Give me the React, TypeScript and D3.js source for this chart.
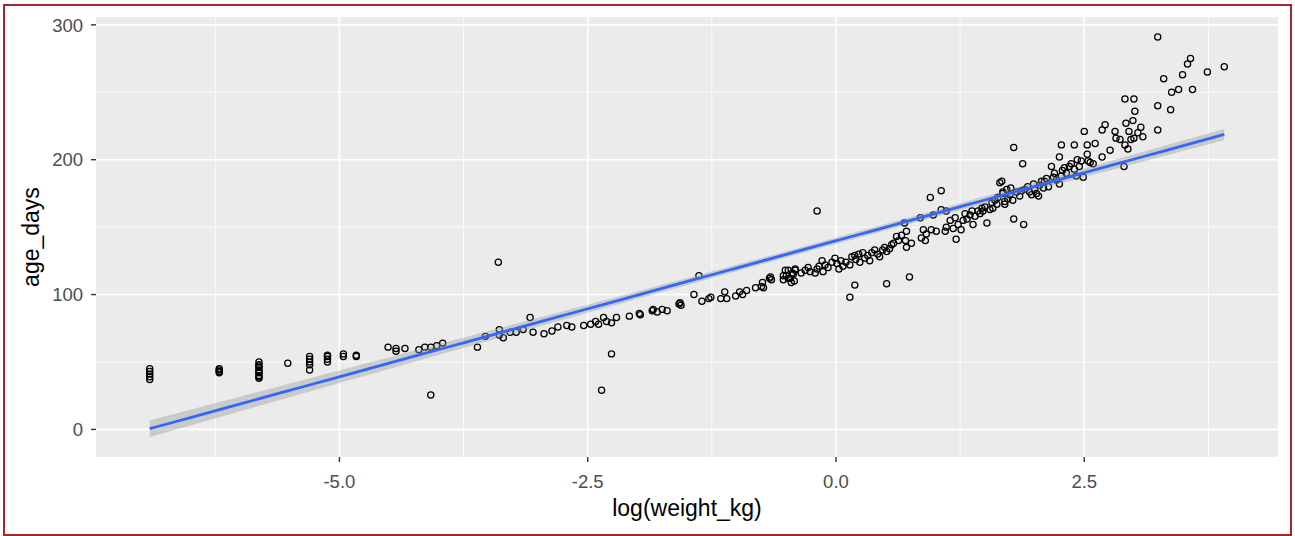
import React from 'react';
import * as d3 from 'd3';

// log(weight_kg) and age_days
const logWeight = [
  -6.91, -6.91, -6.91, -6.91, -6.91,
  -6.21, -6.21, -6.21, -6.21,
  -5.81, -5.81, -5.81, -5.81, -5.81, -5.81, -5.81, -5.81, -5.81, -5.81,
  -5.52, -5.30, -5.30, -5.30, -5.30, -5.30, -5.12, -5.12, -5.12, -5.12,
  -4.96, -4.96, -4.83, -4.83, -4.51, -4.43, -4.43, -4.34, -4.20, -4.14,
  -4.08, -4.08, -4.02, -3.96, -3.61, -3.53, -3.40, -3.39, -3.39, -3.35,
  -3.28, -3.22, -3.15, -3.08, -3.05, -2.94, -2.86, -2.80, -2.71, -2.66,
  -2.54, -2.47, -2.42, -2.39, -2.36, -2.34, -2.31, -2.26, -2.26, -2.21,
  -2.08, -1.98, -1.97, -1.85, -1.84, -1.80, -1.75, -1.70, -1.58, -1.57,
  -1.56, -1.43, -1.38, -1.35, -1.28, -1.26, -1.16, -1.12, -1.10, -1.01,
  -0.97, -0.94, -0.90, -0.81, -0.75, -0.74, -0.73, -0.67, -0.66, -0.65,
  -0.53, -0.53, -0.51, -0.50, -0.48, -0.48, -0.46, -0.45, -0.44, -0.43,
  -0.42, -0.41, -0.41, -0.35, -0.31, -0.28, -0.26, -0.21, -0.19, -0.19,
  -0.17, -0.14, -0.13, -0.11, -0.08, -0.04, -0.01, 0.01, 0.03, 0.05,
  0.07, 0.10, 0.14, 0.14, 0.16, 0.19, 0.19, 0.20, 0.23, 0.24,
  0.27, 0.29, 0.32, 0.34, 0.36, 0.39, 0.42, 0.44, 0.47, 0.49,
  0.51, 0.51, 0.54, 0.56, 0.58, 0.61, 0.63, 0.66, 0.69, 0.70,
  0.71, 0.71, 0.74, 0.76, 0.85, 0.86, 0.88, 0.90, 0.91, 0.95,
  0.96, 0.98, 1.01, 1.06, 1.06, 1.10, 1.11, 1.11, 1.15, 1.18,
  1.20, 1.21, 1.23, 1.26, 1.28, 1.30, 1.32, 1.35, 1.37, 1.38,
  1.40, 1.43, 1.45, 1.47, 1.48, 1.50, 1.52, 1.55, 1.57, 1.58,
  1.60, 1.62, 1.63, 1.65, 1.67, 1.68, 1.68, 1.70, 1.70, 1.72,
  1.73, 1.75, 1.76, 1.78, 1.79, 1.79, 1.82, 1.85, 1.87, 1.88,
  1.89, 1.90, 1.93, 1.95, 1.97, 1.99, 2.00, 2.02, 2.04, 2.05,
  2.07, 2.09, 2.10, 2.12, 2.14, 2.17, 2.19, 2.20, 2.22, 2.25,
  2.25, 2.27, 2.27, 2.28, 2.30, 2.32, 2.35, 2.37, 2.40, 2.40,
  2.42, 2.43, 2.45, 2.47, 2.49, 2.50, 2.53, 2.53, 2.54, 2.56,
  2.59, 2.61, 2.68, 2.68, 2.71, 2.76, 2.81, 2.82, 2.86, 2.90,
  2.91, 2.91, 2.92, 2.94, 2.95, 2.97, 2.99, 3.00, 3.00, 3.01,
  3.04, 3.07, 3.09, 3.24, 3.24, 3.24, 3.30, 3.37, 3.38, 3.45,
  3.49, 3.54, 3.57, 3.59, 3.74, 3.91,
];

const ageDays = [
  37, 39, 41, 43, 45,
  42, 43, 44, 45,
  38, 39, 40, 42, 43, 44, 46, 47, 48, 50,
  49, 44, 48, 50, 52, 54, 50, 52, 54, 55,
  54, 56, 54, 55, 61, 60, 58, 60, 59, 61,
  61, 25.5, 62, 64, 61, 69, 124, 74, 70, 68,
  72, 72, 74, 83, 72, 71, 73, 76, 77, 76,
  77, 78, 80, 78, 29, 83, 80, 79, 56, 83,
  84, 86, 85, 88, 89, 87, 89, 88, 93, 94,
  92, 100, 114, 95, 97, 98, 97, 102, 97, 99,
  102, 100, 103, 105, 106, 109, 105, 112, 113, 111,
  111, 114, 118, 114, 118, 112, 112, 109, 116, 115,
  110, 119, 118, 116, 118, 120, 117, 116, 119, 162,
  121, 125, 117, 122, 120, 124, 127, 123, 119, 125,
  121, 124, 122, 98, 128, 129, 107, 126, 130, 124,
  131, 127, 129, 125, 131, 133, 130, 128, 133, 135,
  132, 108, 134, 137, 138, 143, 140, 144, 153, 140,
  147, 135, 113, 138, 157, 142, 148, 140, 145, 172,
  148, 159, 147, 177, 163, 147, 150, 162, 155, 149,
  157, 141, 152, 148, 155, 160, 156, 159, 162, 152,
  158, 162, 160, 164, 162, 165, 153, 163, 168, 164,
  170, 167, 172, 183, 184, 175, 176, 169, 167, 178,
  171, 174, 179, 170, 209, 156, 176, 173, 177, 197,
  152, 178, 180, 176, 174, 182, 178, 175, 173, 181,
  184, 179, 184, 186, 180, 195, 187, 190, 185, 182,
  202, 188, 211, 192, 194, 190, 195, 197, 193, 211,
  188, 200, 195, 199, 187, 221, 211, 204, 199, 198,
  197, 212, 202, 222, 226, 207, 221, 216, 215, 195,
  211, 245, 227, 208, 221, 215, 229, 216, 245, 236,
  220, 224, 217, 291, 240, 222, 260, 237, 250, 252,
  263, 271, 275, 252, 265, 269,
];

const xTicks = [-5.0, -2.5, 0.0, 2.5];
const xMinor = [-6.25, -3.75, -1.25, 1.25, 3.75];
const yTicks = [0, 100, 200, 300];
const yMinor = [50, 150, 250];

const W = 1295;
const H = 536;
const panel = { left: 96, right: 1278, top: 17, bottom: 457 };
const font = '"Liberation Sans", Arial, sans-serif';

// ordinary least squares with a 95% confidence band, like geom_smooth(method = "lm")
function fitLm(xs: number[], ys: number[]) {
  const n = xs.length;
  const xbar = d3.mean(xs)!;
  const ybar = d3.mean(ys)!;
  let sxx = 0;
  let sxy = 0;
  for (let i = 0; i < n; i++) {
    sxx += (xs[i] - xbar) ** 2;
    sxy += (xs[i] - xbar) * (ys[i] - ybar);
  }
  const b = sxy / sxx;
  const a = ybar - b * xbar;
  let sse = 0;
  for (let i = 0; i < n; i++) sse += (ys[i] - a - b * xs[i]) ** 2;
  const s = Math.sqrt(sse / (n - 2));
  const t = 1.969;
  const [x0, x1] = d3.extent(xs) as [number, number];
  return d3.range(80).map((i) => {
    const x = x0 + ((x1 - x0) * i) / 79;
    const fit = a + b * x;
    const se = s * Math.sqrt(1 / n + (x - xbar) ** 2 / sxx);
    return { x, fit, lo: fit - t * se, hi: fit + t * se };
  });
}

export default function App() {
  const smooth = fitLm(logWeight, ageDays);

  const [xa, xb] = d3.extent(logWeight) as [number, number];
  const xPad = (xb - xa) * 0.05;
  const yLo = Math.min(d3.min(ageDays)!, d3.min(smooth, (d) => d.lo)!);
  const yHi = Math.max(d3.max(ageDays)!, d3.max(smooth, (d) => d.hi)!);
  const yPad = (yHi - yLo) * 0.05;

  const x = d3.scaleLinear().domain([xa - xPad, xb + xPad]).range([panel.left, panel.right]);
  const y = d3.scaleLinear().domain([yLo - yPad, yHi + yPad]).range([panel.bottom, panel.top]);

  const ribbon = d3
    .area<{ x: number; lo: number; hi: number }>()
    .x((d) => x(d.x))
    .y0((d) => y(d.lo))
    .y1((d) => y(d.hi));
  const line = d3
    .line<{ x: number; fit: number }>()
    .x((d) => x(d.x))
    .y((d) => y(d.fit));

  return (
    <svg width={W} height={H} style={{ position: 'absolute', left: 0, top: 0 }} fontFamily={font}>
      <rect x={0} y={0} width={W} height={H} fill="#fff" />
      <rect x={4} y={5} width={1287} height={530} fill="none" stroke="#a3262c" strokeWidth={2} />

      {/* panel */}
      <rect
        x={panel.left}
        y={panel.top}
        width={panel.right - panel.left}
        height={panel.bottom - panel.top}
        fill="#ebebeb"
      />
      {xMinor.map((v) => (
        <line key={'xm' + v} x1={x(v)} x2={x(v)} y1={panel.top} y2={panel.bottom} stroke="#fff" strokeWidth={0.8} />
      ))}
      {yMinor.map((v) => (
        <line key={'ym' + v} x1={panel.left} x2={panel.right} y1={y(v)} y2={y(v)} stroke="#fff" strokeWidth={0.8} />
      ))}
      {xTicks.map((v) => (
        <line key={'xg' + v} x1={x(v)} x2={x(v)} y1={panel.top} y2={panel.bottom} stroke="#fff" strokeWidth={1.6} />
      ))}
      {yTicks.map((v) => (
        <line key={'yg' + v} x1={panel.left} x2={panel.right} y1={y(v)} y2={y(v)} stroke="#fff" strokeWidth={1.6} />
      ))}

      {/* points */}
      {logWeight.map((v, i) => (
        <circle key={i} cx={x(v)} cy={y(ageDays[i])} r={3.1} fill="none" stroke="#000" strokeWidth={1.25} />
      ))}

      {/* lm smooth */}
      <path d={ribbon(smooth)!} fill="#999999" fillOpacity={0.4} />
      <path d={line(smooth)!} fill="none" stroke="#3366ff" strokeWidth={2.8} />

      {/* axes */}
      {xTicks.map((v) => (
        <g key={'xt' + v}>
          <line x1={x(v)} x2={x(v)} y1={panel.bottom} y2={panel.bottom + 5} stroke="#333" strokeWidth={1.4} />
          <text x={x(v)} y={488} textAnchor="middle" fontSize={18.5} fill="#4d4d4d">
            {v.toFixed(1)}
          </text>
        </g>
      ))}
      {yTicks.map((v) => (
        <g key={'yt' + v}>
          <line x1={panel.left - 5} x2={panel.left} y1={y(v)} y2={y(v)} stroke="#333" strokeWidth={1.4} />
          <text x={83} y={y(v)} dy="0.36em" textAnchor="end" fontSize={18.5} fill="#4d4d4d">
            {v}
          </text>
        </g>
      ))}

      <text x={(panel.left + panel.right) / 2} y={516} textAnchor="middle" fontSize={23} fill="#000">
        log(weight_kg)
      </text>
      <text
        transform={`translate(39, ${(panel.top + panel.bottom) / 2}) rotate(-90)`}
        textAnchor="middle"
        fontSize={23}
        fill="#000"
      >
        age_days
      </text>
    </svg>
  );
}
